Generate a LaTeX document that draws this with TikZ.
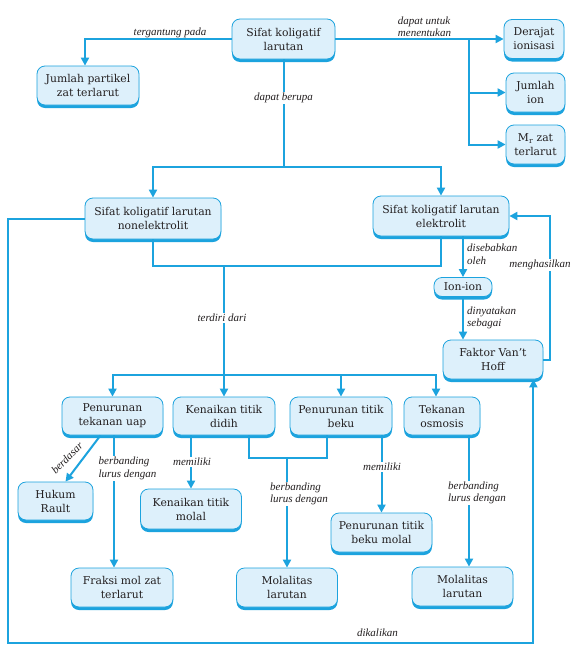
\documentclass[tikz,border=0pt]{standalone}
\usepackage{fontspec}
\setmainfont{DejaVu Serif}
\newfontfamily\labfam{Liberation Serif}
\usetikzlibrary{arrows.meta,shadows}
\definecolor{linec}{HTML}{1CA3DE}
\definecolor{boxfill}{HTML}{DDF0FB}
\definecolor{txt}{HTML}{231F20}
\tikzset{
  box/.style={draw=linec, line width=0.8pt, fill=boxfill, rounded corners=8pt,
    align=center, text=txt, inner sep=2pt,
    font={\fontsize{10.8pt}{14pt}\selectfont},
    drop shadow={shadow xshift=0pt, shadow yshift=-3pt, fill=linec, opacity=1}},
  con/.style={draw=linec, line width=2pt},
  arr/.style={con, -{Triangle[length=8pt,width=8pt]}},
  lab/.style={text=txt, inner sep=1pt, align=left,
    font={\labfam\itshape\fontsize{11pt}{12.5pt}\selectfont}},
  labw/.style={lab, fill=white}
}
\begin{document}
\begin{tikzpicture}[x=1pt,y=-1pt]
\fill[white] (0,0) rectangle (578,651);
\useasboundingbox (0,0) rectangle (578,651);
% nodes
\node[box,minimum width=103pt,minimum height=40pt] (top) at (283.5,39) {Sifat koligatif\\larutan};
\node[box,minimum width=102pt,minimum height=39pt] (jp) at (88,85.5) {Jumlah partikel\\zat terlarut};
\node[box,minimum width=60pt,minimum height=39pt] (der) at (534,39) {Derajat\\ionisasi};
\node[box,minimum width=59pt,minimum height=39pt] (jion) at (535.5,92.5) {Jumlah\\ion};
\node[box,minimum width=59pt,minimum height=39pt] (mr) at (535.5,144.5) {M\textsubscript{r} zat\\terlarut};
\node[box,minimum width=136pt,minimum height=41pt] (nonel) at (153,218.5) {Sifat koligatif larutan\\nonelektrolit};
\node[box,minimum width=136pt,minimum height=40pt] (el) at (441,216) {Sifat koligatif larutan\\elektrolit};
\node[box,minimum width=58pt,minimum height=19pt] (ion) at (463,287) {Ion-ion};
\node[box,minimum width=100pt,minimum height=39pt] (fak) at (493,359.5) {Faktor Van’t\\Hoff};
\node[box,minimum width=101pt,minimum height=38pt] (ptu) at (112.5,416) {Penurunan\\tekanan uap};
\node[box,minimum width=102pt,minimum height=38pt] (ktd) at (224,416) {Kenaikan titik\\didih};
\node[box,minimum width=102pt,minimum height=38pt] (ptb) at (341,416) {Penurunan titik\\beku};
\node[box,minimum width=76pt,minimum height=38pt] (tos) at (442,416) {Tekanan\\osmosis};
\node[box,minimum width=75pt,minimum height=38pt] (hr) at (55.5,501) {Hukum\\Rault};
\node[box,minimum width=101pt,minimum height=40pt] (ktm) at (191,509) {Kenaikan titik\\molal};
\node[box,minimum width=102pt,minimum height=39pt] (fm) at (122,587.5) {Fraksi mol zat\\terlarut};
\node[box,minimum width=101pt,minimum height=39pt] (mol1) at (287,587.5) {Molalitas\\larutan};
\node[box,minimum width=101pt,minimum height=39pt] (ptbm) at (381.5,532.5) {Penurunan titik\\beku molal};
\node[box,minimum width=101pt,minimum height=39pt] (mol2) at (462.5,586.5) {Molalitas\\larutan};
% top connectors
\draw[arr] (top.west) -| ([xshift=-3pt]jp.north);
\node[lab] (l1) at (170,33) {tergantung pada};
\draw[arr] (top.east) -- (der.west);
\coordinate (br) at (469,39);
\draw[arr] (br) |- (jion.west);
\draw[arr] (br) |- (mr.west);
\node[lab] (l2) at (424.5,26.5) {dapat untuk\\menentukan};
\coordinate (split) at (283.5,167);
\draw[con] (top.south) -- (split);
\node[labw] (l3) at (283.5,98) {dapat berupa};
\draw[arr] (split) -| (nonel.north);
\draw[arr] (split) -| (el.north);
% middle
\coordinate (j2) at (224,266);
\coordinate (j3) at (224,375);
\draw[con] (nonel.south) |- (j2) -| (el.south);
\draw[con] (j2) -- (j3);
\node[labw] (l4) at (222,318) {terdiri dari};
\draw[arr] (j3) -| (ptu.north);
\draw[arr] (j3) -- (ktd.north);
\draw[arr] (j3) -| (ptb.north);
\draw[arr] (j3) -| ([xshift=-6pt]tos.north);
% loop
\draw[arr] (nonel.west) -| (8,643) -| ([xshift=-10pt]fak.south east);
\node[lab] (l5) at (377.5,633) {dikalikan};
\draw[arr] (el.south -| ion.north) -- (ion.north);
\node[lab,anchor=west] (l6) at (466,254) {disebabkan\\oleh};
\draw[arr] (ion.south) -- (ion.south |- fak.north);
\node[lab,anchor=west] (l7) at (466,318) {dinyatakan\\sebagai};
\draw[arr] (fak.east) -- ++(7,0) |- (el.east);
\node[labw] (l8) at (540,265) {menghasilkan};
% bottom
\draw[arr] ([xshift=-12pt]ptu.south) -- ([xshift=10pt]hr.north);
\node[lab,rotate=45] (l9) at (67,458) {berdasar};
\draw[arr] ([xshift=1.5pt]ptu.south) -- ([xshift=1.5pt]ptu.south |- fm.north);
\node[labw] (l10) at (127.5,468.5) {berbanding\\lurus dengan};
\draw[arr] (ktm.north |- ktd.south) -- (ktm.north);
\node[labw] (l11) at (192,462) {memiliki};
\coordinate (j4) at (287,458);
\draw[con] ([xshift=25pt]ktd.south) |- (j4) -| ([xshift=-14pt]ptb.south);
\draw[arr] (j4) -- (mol1.north);
\node[labw] (l12) at (299,494) {berbanding\\lurus dengan};
\draw[arr] (ptbm.north |- ptb.south) -- (ptbm.north);
\node[labw] (l13) at (382,467) {memiliki};
\draw[arr] ([xshift=27pt]tos.south) -- ([xshift=27pt]tos.south |- mol2.north);
\node[labw] (l14) at (477,493) {berbanding\\lurus dengan};
\end{tikzpicture}
\end{document}
